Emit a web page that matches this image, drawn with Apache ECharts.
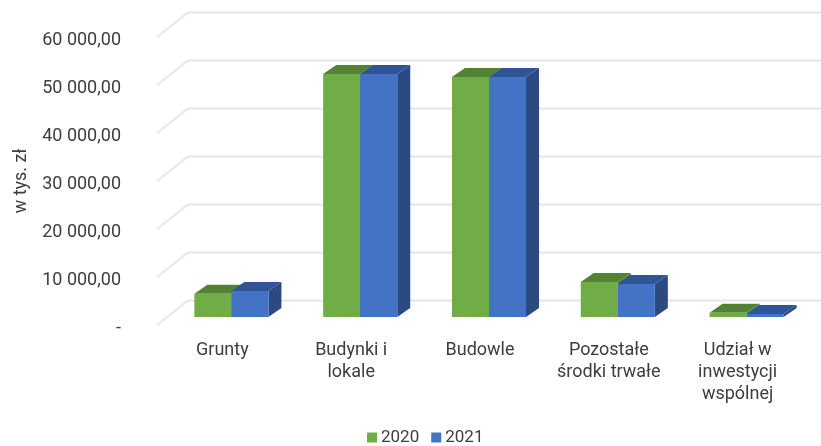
<!DOCTYPE html>
<html><head><meta charset="utf-8">
<style>html,body{margin:0;padding:0;background:#fff}#c{width:821px;height:446px;filter:blur(0.45px)}</style>
<script src="https://cdn.jsdelivr.net/npm/echarts@6/dist/echarts.min.js"></script>
</head><body><div id="c"></div>
<script>
const categories = ['Grunty', 'Budynki i\nlokale', 'Budowle', 'Pozostałe\nśrodki trwałe', 'Udział w\ninwestycji\nwspólnej'];
const values2020 = [4850, 50650, 50000, 7300, 900];
const values2021 = [5400, 50650, 50000, 6900, 650];
const tickValues = [0, 10000, 20000, 30000, 40000, 50000, 60000];
const FONT = 'Roboto';
const TEXT = '#3d3d3d';
const DEPTH = {bar: [13, -9], floorFront: [-10, 8], floorBack: [21, -16.5]};
const chart = echarts.init(document.getElementById('c'));

function barSeries(name, values, side, front, top, dark) {
  return {
    name, type: 'custom', z: 3 + side,
    itemStyle: {color: front},
    data: values.map((v, i) => [i, v]),
    encode: {x: 0, y: 1},
    renderItem(params, api) {
      const band = api.size([1, 0])[0];
      const w = band * 0.2875;
      const c = api.coord([api.value(0), api.value(1)]);
      const b = api.coord([api.value(0), 0]);
      const x0 = c[0] + (side === 0 ? -w : 0), x1 = x0 + w;
      const [dx, dy] = DEPTH.bar;
      const poly = (pts, fill) => ({type: 'polygon', shape: {points: pts}, style: {fill}});
      return {type: 'group', children: [
        poly([[x1, b[1]], [x1 + dx, b[1] + dy], [x1 + dx, c[1] + dy], [x1, c[1]]], dark),
        poly([[x0, c[1]], [x1, c[1]], [x1 + dx, c[1] + dy], [x0 + dx, c[1] + dy]], top),
        poly([[x0, b[1]], [x1, b[1]], [x1, c[1]], [x0, c[1]]], front)
      ]};
    }
  };
}

chart.setOption({
  animation: false,
  grid: {left: 167, right: 10, top: 29, bottom: 129, containLabel: false},
  legend: {
    data: ['2020', '2021'], top: 424, left: 362, icon: 'rect',
    itemWidth: 10, itemHeight: 10, itemGap: 12,
    textStyle: {fontFamily: FONT, fontSize: 17, color: TEXT, padding: [0, 0, 0, -1]}
  },
  xAxis: {
    type: 'category', data: categories,
    axisLine: {show: false}, axisTick: {show: false},
    axisLabel: {
      fontFamily: FONT, fontSize: 18, color: TEXT, margin: 22, lineHeight: 22,
      padding: [0, 18, 0, 0], interval: 0, align: 'center'
    }
  },
  yAxis: {
    type: 'value', min: 0, max: 60000, interval: 10000,
    name: 'w tys. zł', nameLocation: 'middle', nameGap: 137,
    nameTextStyle: {fontFamily: FONT, fontSize: 18, color: TEXT, padding: [0, 16, 0, 0]},
    splitLine: {show: false}, axisLine: {show: false}, axisTick: {show: false},
    axisLabel: {
      fontFamily: FONT, fontSize: 18, color: TEXT, margin: 46, verticalAlign: 'top', lineHeight: 22,
      formatter: v => v === 0 ? '-' : String(v).replace(/(\d)(?=(\d{3})+$)/g, '$1 ') + ',00'
    }
  },
  series: [
    {
      name: 'grid', type: 'custom', z: 1, silent: true,
      data: tickValues.map(v => [0, v]), encode: {x: 0, y: 1},
      renderItem(params, api) {
        const y = api.coord([0, api.value(1)])[1];
        const x = params.coordSys.x, w = params.coordSys.width;
        const f = DEPTH.floorFront, k = DEPTH.floorBack;
        return {type: 'polyline',
          shape: {points: [[x + f[0], y + f[1]], [x + k[0], y + k[1]], [x + w + k[0], y + k[1]]]},
          style: {stroke: '#e6e6e6', lineWidth: 1.8, fill: 'none'}};
      }
    },
    barSeries('2020', values2020, 0, '#70ad47', '#548235', '#4f7a32'),
    barSeries('2021', values2021, 1, '#4472c4', '#2f5597', '#2b4a80')
  ]
});
</script></body></html>
